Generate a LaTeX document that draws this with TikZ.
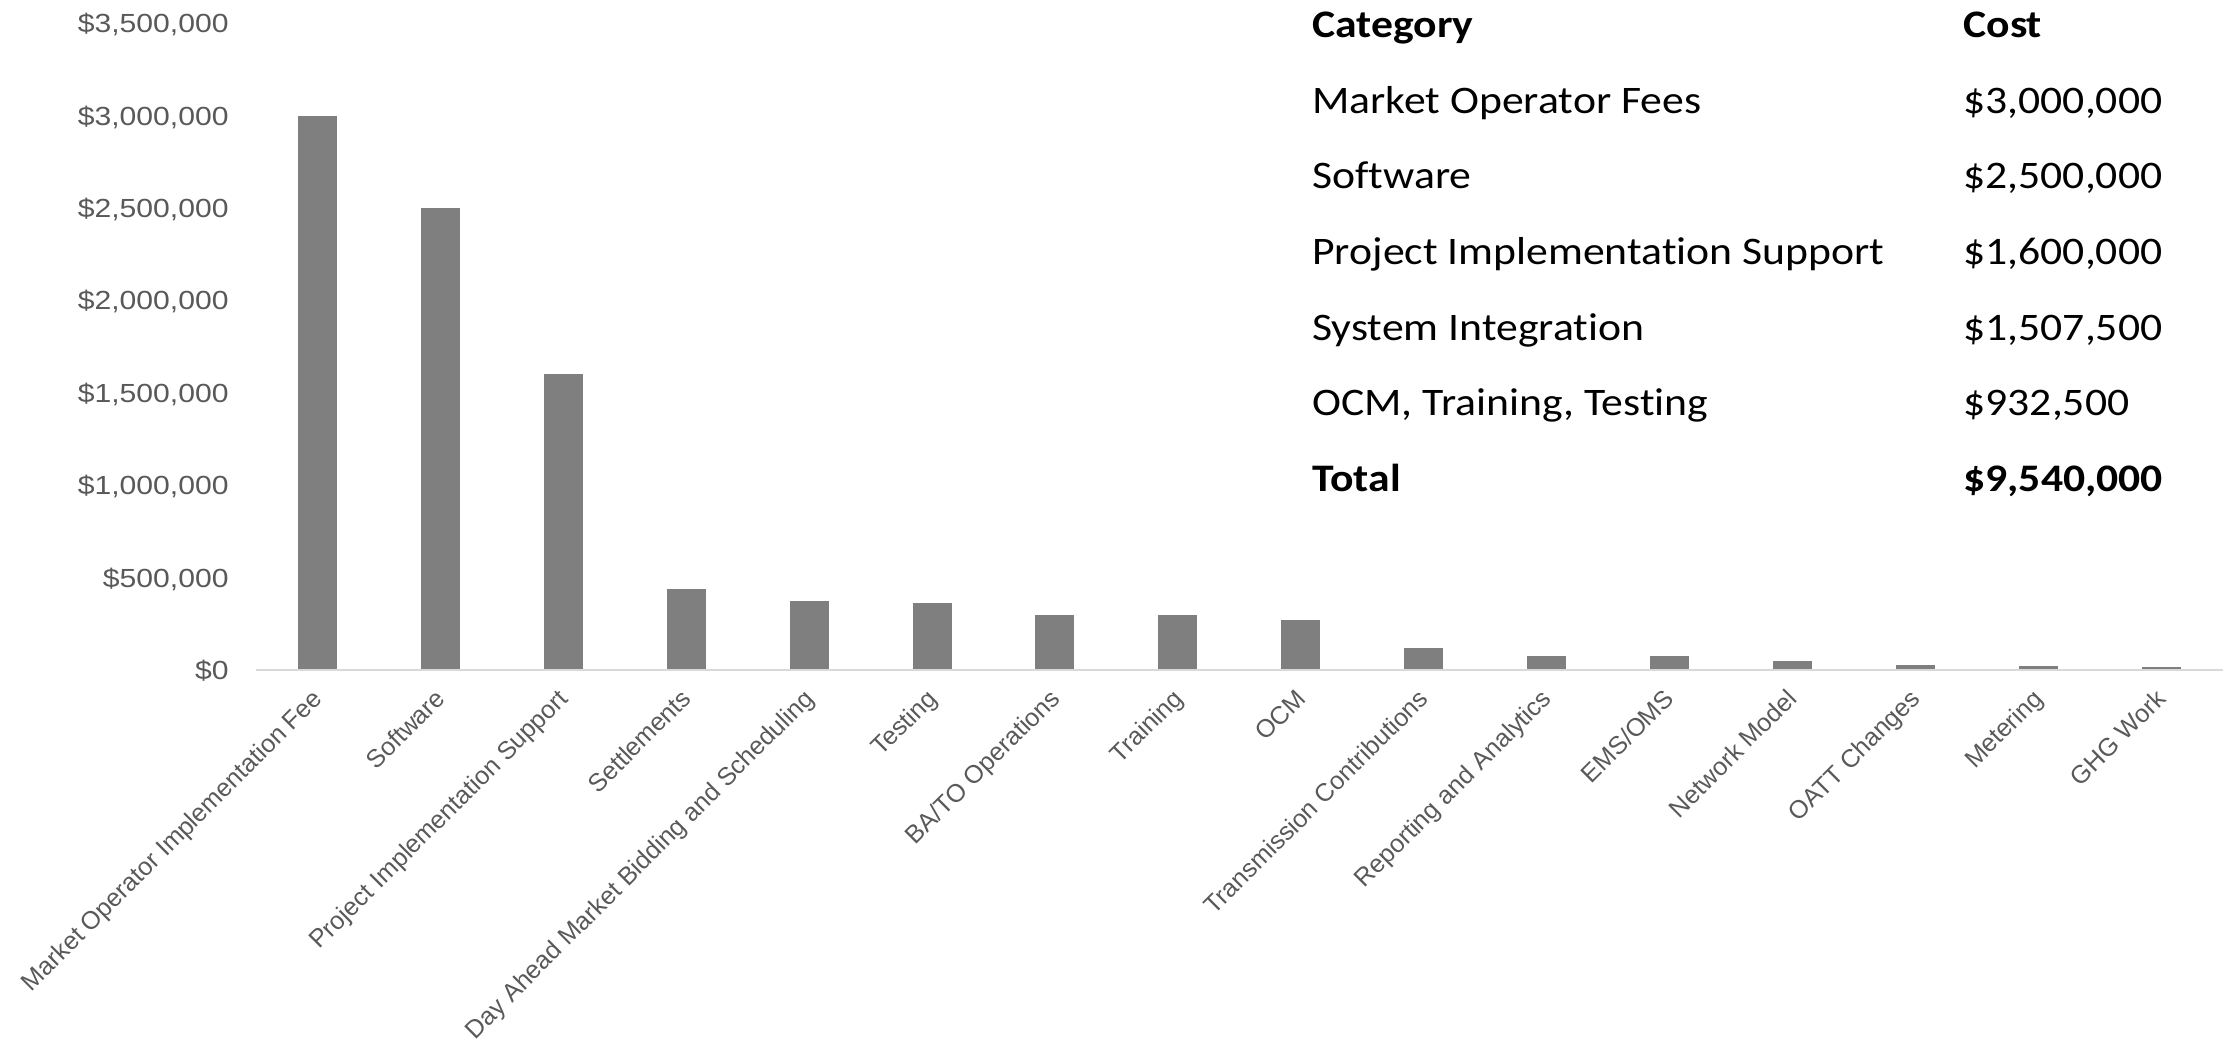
\documentclass[tikz,border=0pt]{standalone}
\usepackage{fontspec}
\setmainfont{Liberation Sans}
\newfontfamily\tabfont[FakeStretch=1.12, Ligatures=NoCommon]{Carlito}
\newfontfamily\axfont[FakeStretch=1.15]{Liberation Sans}
\definecolor{bargray}{HTML}{7F7F7F}
\definecolor{labgray}{HTML}{595959}
\definecolor{axisgray}{HTML}{D9D9D9}

\begin{document}
\begin{tikzpicture}[x=0.5pt,y=-0.5pt]

      %styles of the chart and the table
      \tikzset{
      bar/.style={fill=bargray},
      baseaxis/.style={draw=axisgray, line width=1.1pt},
      ticklab/.style={anchor=base east, inner sep=0pt, text=labgray,
        font=\axfont\fontsize{13.1pt}{15pt}\selectfont},
      catlab/.style={anchor=base east, inner sep=0pt, rotate=45, text=labgray,
        font=\fontsize{12.6pt}{15pt}\selectfont},
      tabtext/.style={anchor=base west, inner sep=0pt,
        font=\tabfont\fontsize{19.5pt}{23pt}\selectfont},
      tabbold/.style={tabtext, font=\tabfont\bfseries\fontsize{19.5pt}{23pt}\selectfont},
      }

      \useasboundingbox (0,0) rectangle (2239,1046);

      %bars
      \fill[bar] (298.0,670) rectangle (337.0,115.6);
      \fill[bar] (420.9,670) rectangle (459.9,208.0);
      \fill[bar] (543.8,670) rectangle (582.8,374.3);
      \fill[bar] (666.7,670) rectangle (705.7,589.2);
      \fill[bar] (789.6,670) rectangle (828.6,600.7);
      \fill[bar] (912.5,670) rectangle (951.5,603.0);
      \fill[bar] (1035.4,670) rectangle (1074.4,614.6);
      \fill[bar] (1158.3,670) rectangle (1197.3,614.6);
      \fill[bar] (1281.2,670) rectangle (1320.2,620.1);
      \fill[bar] (1404.1,670) rectangle (1443.1,647.8);
      \fill[bar] (1527.0,670) rectangle (1566.0,656.1);
      \fill[bar] (1649.9,670) rectangle (1688.9,656.1);
      \fill[bar] (1772.8,670) rectangle (1811.8,660.8);
      \fill[bar] (1895.7,670) rectangle (1934.7,664.5);
      \fill[bar] (2018.6,670) rectangle (2057.6,666.0);
      \fill[bar] (2141.5,670) rectangle (2180.5,667.2);

      %category axis
      \coordinate (axisL) at (256,670);
      \coordinate (axisR) at (2223,670);
      \draw[baseaxis] (axisL) -- (axisR);

      %value axis labels
      \node[ticklab] (tick0) at (229,679.4) {\$0};
      \node[ticklab] (tick1) at (229,587.0) {\$500,000};
      \node[ticklab] (tick2) at (229,494.6) {\$1,000,000};
      \node[ticklab] (tick3) at (229,402.2) {\$1,500,000};
      \node[ticklab] (tick4) at (229,309.8) {\$2,000,000};
      \node[ticklab] (tick5) at (229,217.4) {\$2,500,000};
      \node[ticklab] (tick6) at (229,125.0) {\$3,000,000};
      \node[ticklab] (tick7) at (229,32.6) {\$3,500,000};

      %category labels
      \node[catlab] (lab1) at (324.0,700) {Market Operator Implementation Fee};
      \node[catlab] (lab2) at (446.9,700) {Software};
      \node[catlab] (lab3) at (569.8,700) {Project Implementation Support};
      \node[catlab] (lab4) at (692.7,700) {Settlements};
      \node[catlab] (lab5) at (815.6,700) {Day Ahead Market Bidding and Scheduling};
      \node[catlab] (lab6) at (938.5,700) {Testing};
      \node[catlab] (lab7) at (1061.4,700) {BA/TO Operations};
      \node[catlab] (lab8) at (1184.3,700) {Training};
      \node[catlab] (lab9) at (1307.2,700) {OCM};
      \node[catlab] (lab10) at (1430.1,700) {Transmission Contributions};
      \node[catlab] (lab11) at (1553.0,700) {Reporting and Analytics};
      \node[catlab] (lab12) at (1675.9,700) {EMS/OMS};
      \node[catlab] (lab13) at (1798.8,700) {Network Model};
      \node[catlab] (lab14) at (1921.7,700) {OATT Changes};
      \node[catlab] (lab15) at (2044.6,700) {Metering};
      \node[catlab] (lab16) at (2167.5,700) {GHG Work};

      %cost table
      \node[tabbold] (catHead) at (1312,37.3) {Category};
      \node[tabbold] (costHead) at (1963,37.3) {Cost};
      \node[tabtext] (cat1) at (1312,113.0) {Market Operator Fees};
      \node[tabtext] (cost1) at (1963,113.0) {\$3,000,000};
      \node[tabtext] (cat2) at (1312,188.7) {Software};
      \node[tabtext] (cost2) at (1963,188.7) {\$2,500,000};
      \node[tabtext] (cat3) at (1312,264.4) {Project Implementation Support};
      \node[tabtext] (cost3) at (1963,264.4) {\$1,600,000};
      \node[tabtext] (cat4) at (1312,340.1) {System Integration};
      \node[tabtext] (cost4) at (1963,340.1) {\$1,507,500};
      \node[tabtext] (cat5) at (1312,415.8) {OCM, Training, Testing};
      \node[tabtext] (cost5) at (1963,415.8) {\$932,500};
      %total
      \node[tabbold] (catTotal) at (1312,491.5) {Total};
      \node[tabbold] (costTotal) at (1963,491.5) {\$9,540,000};
    \end{tikzpicture}
\end{document}
